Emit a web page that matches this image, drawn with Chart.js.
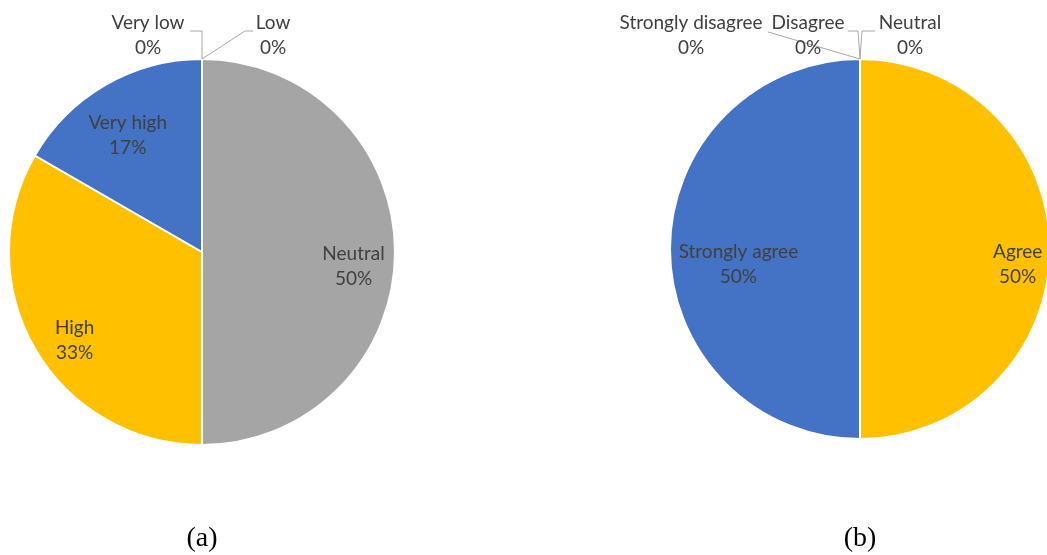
<!DOCTYPE html>
<html>
<head>
<meta charset="utf-8">
<script src="https://cdn.jsdelivr.net/npm/chart.js@4.4.0/dist/chart.umd.min.js"></script>
<style>
  html, body { margin: 0; padding: 0; background: #ffffff; overflow: hidden; width: 1047px; height: 555px; }
  #wrapA { position: absolute; left: 0; top: 0; width: 520px; height: 555px; }
  #wrapB { position: absolute; left: 527px; top: 0; width: 540px; height: 555px; }
</style>
</head>
<body>
<div id="wrapA"><canvas id="chartA" width="520" height="555"></canvas></div>
<div id="wrapB"><canvas id="chartB" width="540" height="555"></canvas></div>
<script>
// ---------- data ----------
const categoriesA = ["Very low", "Low", "Neutral", "High", "Very high"];
const valuesA     = [0, 0, 3, 2, 1];           // 0%, 0%, 50%, 33%, 17%
const captionA    = "(a)";

const categoriesB = ["Strongly disagree", "Disagree", "Neutral", "Agree", "Strongly agree"];
const valuesB     = [0, 0, 0, 1, 1];           // 0%, 0%, 0%, 50%, 50%
const captionB    = "(b)";

// ---------- styles ----------
const BLUE = "#4472C4", ORANGE = "#ED7D31", GRAY = "#A5A5A5", GOLD = "#FFC000";
const colorsA = [BLUE, ORANGE, GRAY, GOLD, BLUE];
const colorsB = [BLUE, ORANGE, GRAY, GOLD, BLUE];

const LABEL_FONT = "19px Lato, 'Noto Sans', sans-serif";
const LABEL_COLOR = "#404040";
const LEADER_COLOR = "#A6A6A6";
const LINE_GAP = 25;

// label layouts: inside labels use fraction of radius along mid-angle + nudge,
// outside (zero) labels are placed relative to the slice's anchor on the rim.
const layoutA = [
  { out: true, dx: -54, dy: -23.5, leader: [[0,0],[0,-28],[-12,-28]] },
  { out: true, dx: 71,  dy: -23.5, leader: [[0,0],[43,-28],[51,-28]] },
  { frac: 0.78, nx: 1, ny: 14 },
  { frac: 0.78, nx: 3, ny: 13.5 },
  { frac: 0.78, nx: 1, ny: 13.5 }
];
const layoutB = [
  { out: true, dx: -169, dy: -23.5, leader: [[0,0],[-92,-27]] },
  { out: true, dx: -52,  dy: -23.5, leader: [[0,0],[-2,-28],[-12,-28]] },
  { out: true, dx: 50,   dy: -23.5, leader: [[0,0],[2,-28],[15,-28]] },
  { frac: 0.83, nx: 0, ny: 15 },
  { frac: 0.64, nx: 0, ny: 15.5 }
];

function pct(values, i) {
  const total = values.reduce((a, b) => a + b, 0);
  return Math.round(values[i] / total * 100) + "%";
}

const labelPlugin = {
  id: "pieLabels",
  afterDatasetsDraw(chart) {
    const ctx = chart.ctx;
    const cfg = chart.options.plugins.pieLabels;
    const meta = chart.getDatasetMeta(0);
    const values = chart.data.datasets[0].data;
    ctx.save();
    ctx.font = LABEL_FONT;
    ctx.textAlign = "center";
    ctx.textBaseline = "middle";
    meta.data.forEach((arc, i) => {
      const p = arc.getProps(["x", "y", "startAngle", "endAngle", "outerRadius"], true);
      const L = cfg.layout[i];
      const lines = [chart.data.labels[i], pct(values, i)];
      let cx, cy;
      if (L.out) {
        const ax = p.x + Math.cos(p.startAngle) * p.outerRadius;
        const ay = p.y + Math.sin(p.startAngle) * p.outerRadius;
        ctx.strokeStyle = LEADER_COLOR;
        ctx.lineWidth = 1;
        ctx.beginPath();
        L.leader.forEach((pt, k) => {
          const X = ax + pt[0], Y = ay + pt[1];
          if (k === 0) ctx.moveTo(X, Y); else ctx.lineTo(X, Y);
        });
        ctx.stroke();
        cx = ax + L.dx; cy = ay + L.dy;
      } else {
        const mid = (p.startAngle + p.endAngle) / 2;
        cx = p.x + Math.cos(mid) * p.outerRadius * L.frac + L.nx;
        cy = p.y + Math.sin(mid) * p.outerRadius * L.frac + L.ny;
      }
      ctx.fillStyle = LABEL_COLOR;
      ctx.fillText(lines[0], cx, cy - LINE_GAP / 2);
      ctx.fillText(lines[1], cx, cy + LINE_GAP / 2);
    });
    // caption under the pie
    const c0 = meta.data[0].getProps(["x"], true);
    ctx.fillStyle = "#000000";
    ctx.font = "28px 'Liberation Serif', 'Times New Roman', serif";
    ctx.textBaseline = "alphabetic";
    ctx.fillText(cfg.caption, c0.x, 546);
    ctx.restore();
  }
};

function makePie(id, labels, values, colors, layout, caption, padding) {
  return new Chart(document.getElementById(id), {
    type: "pie",
    data: {
      labels: labels,
      datasets: [{
        data: values,
        backgroundColor: colors,
        borderColor: "#ffffff",
        borderWidth: 2
      }]
    },
    options: {
      responsive: false,
      animation: false,
      events: [],
      layout: { padding: padding },
      plugins: {
        legend: { display: false },
        tooltip: { enabled: false },
        pieLabels: { layout: layout, caption: caption }
      }
    },
    plugins: [labelPlugin]
  });
}

makePie("chartA", categoriesA, valuesA, colorsA, layoutA, captionA,
        { left: 8, right: 520 - 396, top: 58, bottom: 555 - 446 });
makePie("chartB", categoriesB, valuesB, colorsB, layoutB, captionB,
        { left: 142, right: 540 - 524, top: 58, bottom: 555 - 440 });
</script>
</body>
</html>
